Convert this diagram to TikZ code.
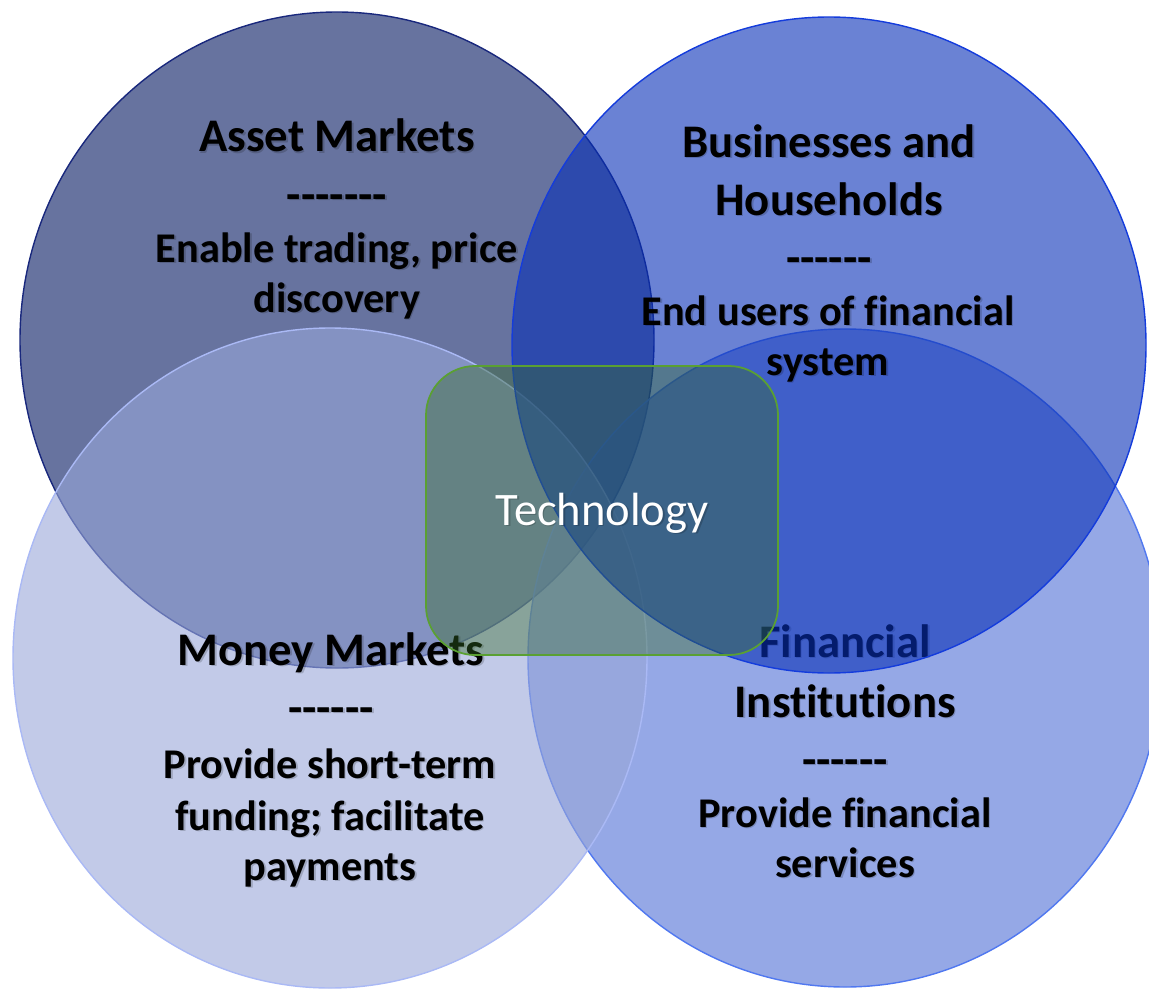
\documentclass[tikz,border=0pt]{standalone}
\usepackage{fontspec}
\setmainfont{Carlito}[Ligatures=NoCommon]
\usetikzlibrary{positioning}

\definecolor{assetfill}{RGB}{2,22,95}
\definecolor{assetline}{RGB}{25,40,125}
\definecolor{busfill}{RGB}{7,47,183}
\definecolor{busline}{RGB}{20,60,220}
\definecolor{moneyfill}{RGB}{153,167,217}
\definecolor{moneyline}{RGB}{170,185,245}
\definecolor{finfill}{RGB}{78,110,213}
\definecolor{finline}{RGB}{80,120,240}
\definecolor{techfill}{RGB}{52,105,38}
\definecolor{techline}{RGB}{90,160,50}

% a row of plain hyphens (no en/em dash ligatures)
\newcommand{\dashrow}[1]{\foreach \k in {1,...,#1}{-\kern0pt}}
% text with a soft drop shadow: style, name, position, text
\newcommand{\vlabel}[4]{%
  \node[#1, text=black, text opacity=0.18, xshift=0.9pt, yshift=-1.1pt] (#2s) at (#3) {#4};
  \node[#1] (#2) at (#3) {#4};}

\begin{document}
\begin{tikzpicture}[x=0.02cm,y=-0.02cm]

\tikzset{venn/.style = {fill opacity=0.6, line width=0.8pt}}
\tikzset{head/.style = {anchor=base, inner sep=0pt, font=\fontsize{26.6}{32}\selectfont\bfseries}}
\tikzset{body/.style = {anchor=base, inner sep=0pt, font=\fontsize{24.1}{29}\selectfont\bfseries}}
\tikzset{techbox/.style = {draw=techline, fill=techfill, fill opacity=0.4, line width=1pt, rounded corners=28pt}}
\tikzset{techtext/.style = {anchor=base, inner sep=0pt, text=white, font=\fontsize{26.5}{32}\selectfont}}

\useasboundingbox (0,0) rectangle (1149,990);
\clip (0,0) rectangle (1149,990);

% asset markets
\draw[venn, draw=assetline, fill=assetfill] (337,340) ellipse [x radius=317, y radius=328];
\vlabel{head}{asset1}{337,152}{Asset Markets}
\vlabel{head}{asset2}{337,210}{\dashrow{7}}
\vlabel{body}{asset3}{337,262}{Enable trading, price}
\vlabel{body}{asset4}{337,312}{discovery}

% financial institutions
\draw[venn, draw=finline, fill=finfill] (845,658) ellipse [x radius=317, y radius=329];
\vlabel{head}{fin1}{845,657}{Financial}
\vlabel{head}{fin2}{845,717}{Institutions}
\vlabel{head}{fin3}{845,775}{\dashrow{6}}
\vlabel{body}{fin4}{845,827}{Provide financial}
\vlabel{body}{fin5}{845,877}{services}

% money markets
\draw[venn, draw=moneyline, fill=moneyfill] (330,658) ellipse [x radius=317, y radius=330];
\vlabel{head}{money1}{331,665}{Money Markets}
\vlabel{head}{money2}{331,723}{\dashrow{6}}
\vlabel{body}{money3}{330,778}{Provide short-term}
\vlabel{body}{money4}{330,830}{funding; facilitate}
\vlabel{body}{money5}{330,880}{payments}

% businesses and households
\draw[venn, draw=busline, fill=busfill] (829,345) ellipse [x radius=317, y radius=328];
\vlabel{head}{bus1}{829,157}{Businesses and}
\vlabel{head}{bus2}{829,215}{Households}
\vlabel{head}{bus3}{829,273}{\dashrow{6}}
\vlabel{body}{bus4}{828,325}{End users of financial}
\vlabel{body}{bus5}{828,375}{system}

% technology in the middle
\draw[techbox] (426,366) rectangle (778,655);
\vlabel{techtext}{tech}{602,525}{Technology}

\end{tikzpicture}
\end{document}
